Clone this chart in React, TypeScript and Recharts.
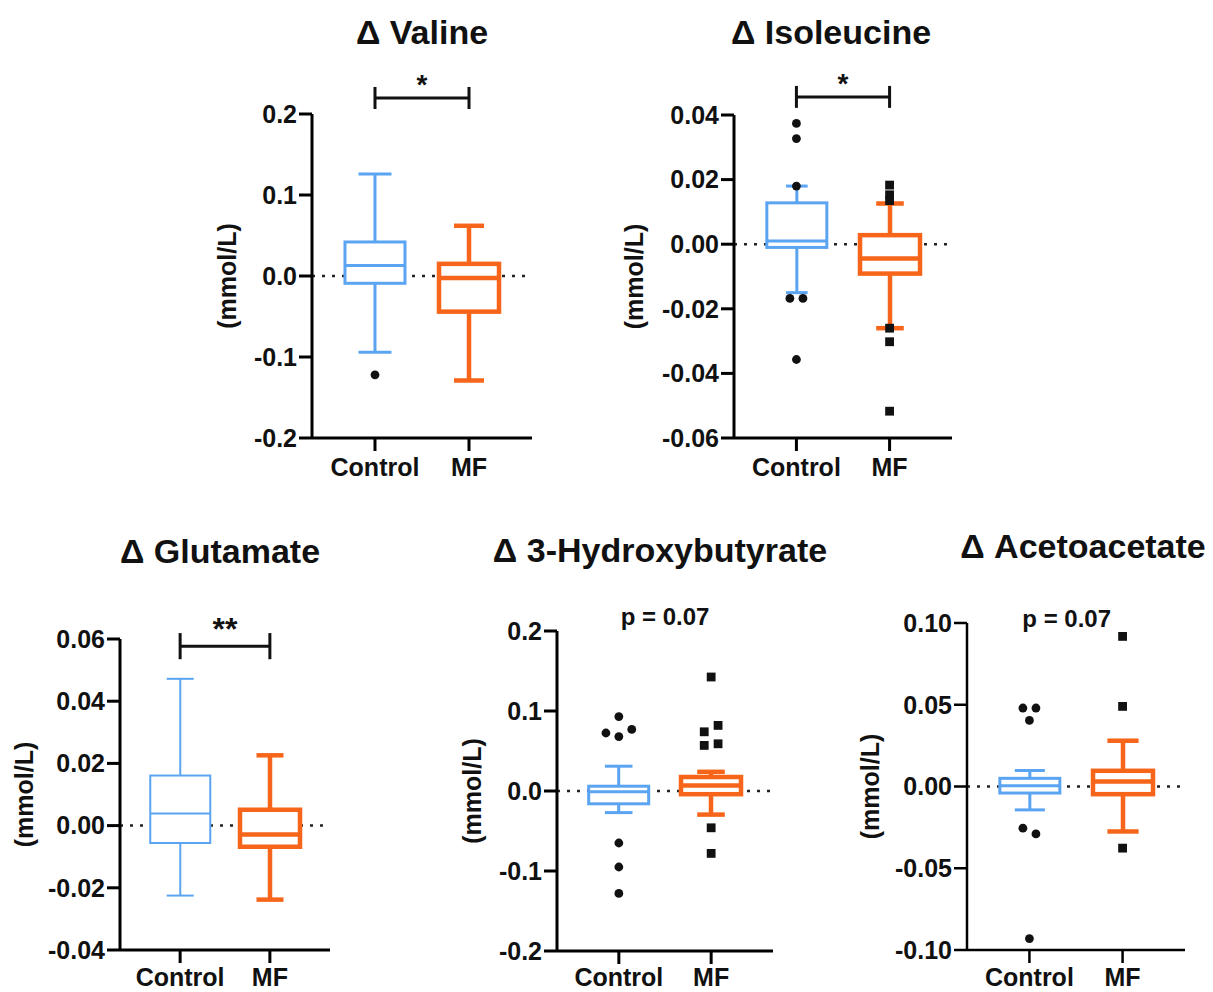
import React from 'react';
import { ComposedChart, Bar, Scatter, XAxis, YAxis, ReferenceLine, CartesianGrid } from 'recharts';

const GROUPS = ['Control', 'MF'];
const GROUP_COLORS = ['#5aa4f2', '#f6651a'];
const FONT = '"Liberation Sans", Arial, Helvetica, sans-serif';

// box stats per group: [min, q1, median, q3, max]
const valineStats = [
  [-0.094, -0.009, 0.013, 0.042, 0.126],
  [-0.129, -0.044, -0.0025, 0.015, 0.062],
];
const valineOutliers = [{ x: 1, y: -0.122 }];
const valineTicks = [-0.2, -0.1, 0, 0.1, 0.2];

const isoleucineStats = [
  [-0.015, -0.001, 0.001, 0.0128, 0.018],
  [-0.026, -0.0091, -0.0044, 0.0028, 0.0126],
];
const isoleucineOutliers = [
  { x: 1, y: 0.0374 },
  { x: 1, y: 0.0327 },
  { x: 1, y: 0.018 },
  { x: 0.93, y: -0.0168 },
  { x: 1.07, y: -0.0168 },
  { x: 1, y: -0.0357 },
  { x: 2, y: 0.0183 },
  { x: 2, y: 0.0153 },
  { x: 2, y: 0.0135 },
  { x: 2, y: -0.026 },
  { x: 2, y: -0.0302 },
  { x: 2, y: -0.0517 },
];
const isoleucineTicks = [-0.06, -0.04, -0.02, 0, 0.02, 0.04];

const glutamateStats = [
  [-0.0225, -0.0056, 0.0039, 0.0161, 0.0472],
  [-0.0238, -0.0068, -0.0029, 0.0051, 0.0226],
];
const glutamateOutliers: { x: number; y: number }[] = [];
const glutamateTicks = [-0.04, -0.02, 0, 0.02, 0.04, 0.06];

const hydroxyStats = [
  [-0.027, -0.016, -0.001, 0.006, 0.031],
  [-0.0295, -0.004, 0.007, 0.0175, 0.024],
];
const hydroxyOutliers = [
  { x: 1, y: 0.093 },
  { x: 0.86, y: 0.0725 },
  { x: 1, y: 0.068 },
  { x: 1.14, y: 0.077 },
  { x: 1, y: -0.065 },
  { x: 1, y: -0.095 },
  { x: 1, y: -0.128 },
  { x: 2, y: 0.1425 },
  { x: 1.925, y: 0.074 },
  { x: 2.075, y: 0.082 },
  { x: 1.925, y: 0.057 },
  { x: 2.075, y: 0.059 },
  { x: 2, y: -0.046 },
  { x: 2, y: -0.078 },
];
const hydroxyTicks = [-0.2, -0.1, 0, 0.1, 0.2];

const acetoStats = [
  [-0.0143, -0.004, 0.0004, 0.005, 0.0098],
  [-0.0275, -0.0047, 0.003, 0.0096, 0.028],
];
const acetoOutliers = [
  { x: 0.93, y: 0.048 },
  { x: 1.07, y: 0.048 },
  { x: 1, y: 0.0404 },
  { x: 0.93, y: -0.0255 },
  { x: 1.07, y: -0.029 },
  { x: 1, y: -0.093 },
  { x: 2, y: 0.0918 },
  { x: 2, y: 0.049 },
  { x: 2, y: -0.0377 },
];
const acetoTicks = [-0.1, -0.05, 0, 0.05, 0.1];

const X_DOMAIN = [0.33, 2.67];
const MT = 75;
const XAXIS_H = 55;
const YW = 120;
const RIGHT_PAD = 12;

const PANELS = [
  {
    title: 'Δ Valine', titleX: 422, titleY: 44,
    stats: valineStats, outliers: valineOutliers, ticks: valineTicks, digits: 1,
    note: { text: '*', y: 0.2198, x: [1, 2], tick: 0.0136, size: 28, lift: 4 },
    axisX: 312, top: 114, bottom: 438, right: 532, labelDx: 85, xMargin: 7,
    strokes: [3, 4.5], caps: [0.55, 0.5], axisW: 3,
  },
  {
    title: 'Δ Isoleucine', titleX: 831, titleY: 44,
    stats: isoleucineStats, outliers: isoleucineOutliers, ticks: isoleucineTicks, digits: 2,
    note: { text: '*', y: 0.0456, x: [1, 2], tick: 0.0034, size: 28, lift: 4 },
    axisX: 734, top: 115, bottom: 438, right: 952, labelDx: 100, xMargin: 7,
    strokes: [3, 4.5], caps: [0.36, 0.46], axisW: 3,
  },
  {
    title: 'Δ Glutamate', titleX: 220, titleY: 563,
    stats: glutamateStats, outliers: glutamateOutliers, ticks: glutamateTicks, digits: 2,
    note: { text: '**', y: 0.0577, x: [1, 2], tick: 0.0042, size: 32, lift: 6 },
    axisX: 120, top: 639, bottom: 950, right: 330, labelDx: 96, xMargin: 5,
    strokes: [2, 4.5], caps: [0.45, 0.45], axisW: 3,
  },
  {
    title: 'Δ 3-Hydroxybutyrate', titleX: 660, titleY: 562,
    stats: hydroxyStats, outliers: hydroxyOutliers, ticks: hydroxyTicks, digits: 1,
    note: { text: 'p = 0.07', y: 0.2075, x: [1, 2], tick: 0, size: 24, lift: 0 },
    axisX: 557, top: 631, bottom: 951, right: 773, labelDx: 85, xMargin: 4,
    strokes: [3, 4.5], caps: [0.46, 0.46], axisW: 3,
  },
  {
    title: 'Δ Acetoacetate', titleX: 1083, titleY: 558,
    stats: acetoStats, outliers: acetoOutliers, ticks: acetoTicks, digits: 2,
    note: { text: 'p = 0.07', y: 0.0976, x: [0.9, 1.9], tick: 0, size: 24, lift: 0 },
    axisX: 967, top: 623, bottom: 950, right: 1185, labelDx: 97, xMargin: 5,
    strokes: [3, 4.5], caps: [0.5, 0.52], axisW: 2.5,
  },
];

type Panel = (typeof PANELS)[number];

const whiskerRange = (d: any) => (d && d.stats ? [d.stats[0], d.stats[4]] : null);

const BoxShape = (props: any) => {
  const { x, y, width, height, payload, panel } = props;
  const p: Panel = panel;
  if (!payload || !payload.stats || x == null) return null;
  const gi = payload.x - 1;
  const [lo, q1, med, q3, hi] = payload.stats;
  const top = Math.min(y, y + height);
  const h = Math.abs(height);
  const py = (v: number) => top + ((hi - v) / (hi - lo)) * h;
  const cx = x + width / 2;
  const half = (width * p.caps[gi]) / 2;
  const sw = p.strokes[gi];
  const color = GROUP_COLORS[gi];
  const common = { stroke: color, strokeWidth: sw };
  return (
    <g>
      <line x1={cx} x2={cx} y1={py(hi)} y2={py(q3)} {...common} />
      <line x1={cx} x2={cx} y1={py(q1)} y2={py(lo)} {...common} />
      <line x1={cx - half} x2={cx + half} y1={py(hi)} y2={py(hi)} {...common} />
      <line x1={cx - half} x2={cx + half} y1={py(lo)} y2={py(lo)} {...common} />
      <rect x={x} y={py(q3)} width={width} height={py(q1) - py(q3)} fill="#fff" {...common} />
      <line x1={x} x2={x + width} y1={py(med)} y2={py(med)} {...common} />
    </g>
  );
};

const OutlierShape = (props: any) => {
  const { cx, cy, payload } = props;
  if (cx == null || cy == null || !payload) return null;
  if (payload.x < 1.5) return <circle cx={cx} cy={cy} r={4.4} fill="#111" />;
  return <rect x={cx - 4.4} y={cy - 4.4} width={8.8} height={8.8} fill="#111" />;
};

const YLabel = (props: any) => {
  const { viewBox, dx } = props;
  if (!viewBox) return null;
  const cx = viewBox.x + viewBox.width - dx;
  const cy = viewBox.y + viewBox.height / 2;
  return (
    <text
      x={cx}
      y={cy}
      transform={`rotate(-90, ${cx}, ${cy})`}
      textAnchor="middle"
      dominantBaseline="central"
      fontSize={25}
      fontWeight={700}
      fontFamily={FONT}
      fill="#111"
    >
      (mmol/L)
    </text>
  );
};

const NoteLabel = (props: any) => {
  const { viewBox, text, size, lift } = props;
  if (!viewBox) return null;
  return (
    <text
      x={viewBox.x + viewBox.width / 2}
      y={viewBox.y - lift}
      textAnchor="middle"
      fontSize={size}
      fontWeight={700}
      fontFamily={FONT}
      fill="#111"
    >
      {text}
    </text>
  );
};

function BoxPanel({ panel }: { panel: Panel }) {
  const plotW = panel.right - panel.axisX;
  const plotH = panel.bottom - panel.top;
  const width = YW + plotW + RIGHT_PAD;
  const height = MT + plotH + XAXIS_H;
  const rows = GROUPS.map((g, i) => ({ x: i + 1, group: g, stats: panel.stats[i] }));
  const yMin = panel.ticks[0];
  const yMax = panel.ticks[panel.ticks.length - 1];
  const n = panel.note;
  const axisStyle = { stroke: '#000', strokeWidth: panel.axisW };
  const tickFont = { fill: '#111', fontSize: 25, fontWeight: 700, fontFamily: FONT };

  return (
    <div style={{ position: 'absolute', left: panel.axisX - YW, top: panel.top - MT }}>
      <ComposedChart
        width={width}
        height={height}
        data={rows}
        margin={{ top: MT, right: RIGHT_PAD, bottom: 0, left: 0 }}
      >
        {/* dotted zero line, drawn behind the boxes */}
        <CartesianGrid
          vertical={false}
          horizontalValues={[0]}
          stroke="#222"
          strokeWidth={2.5}
          strokeDasharray="3 7"
        />
        <XAxis
          type="number"
          dataKey="x"
          domain={X_DOMAIN}
          ticks={[1, 2]}
          allowDataOverflow
          tickFormatter={(v: number) => GROUPS[Math.round(v) - 1] ?? ''}
          height={XAXIS_H}
          axisLine={axisStyle}
          tickLine={axisStyle}
          tickSize={13}
          tickMargin={panel.xMargin}
          tick={tickFont}
        />
        <XAxis
          xAxisId="pts"
          type="number"
          dataKey="x"
          domain={X_DOMAIN}
          allowDataOverflow
          hide
        />
        <YAxis
          type="number"
          domain={[yMin, yMax]}
          ticks={panel.ticks}
          allowDataOverflow
          interval={0}
          width={YW}
          tickFormatter={(v: number) => Number(v).toFixed(panel.digits)}
          axisLine={axisStyle}
          tickLine={axisStyle}
          tickSize={13}
          tickMargin={2}
          tick={tickFont}
          label={<YLabel dx={panel.labelDx} />}
        />
        <Bar
          dataKey={whiskerRange}
          barSize={60}
          isAnimationActive={false}
          shape={(p: any) => <BoxShape {...p} panel={panel} />}
        />
        <Scatter
          xAxisId="pts"
          data={panel.outliers}
          dataKey="y"
          isAnimationActive={false}
          shape={(p: any) => <OutlierShape {...p} />}
        />
        {n.tick > 0 && (
          <ReferenceLine
            ifOverflow="visible"
            segment={[{ x: n.x[0], y: n.y }, { x: n.x[1], y: n.y }]}
            stroke="#111"
            strokeWidth={3}
            label={<NoteLabel text={n.text} size={n.size} lift={n.lift} />}
          />
        )}
        {n.tick > 0 &&
          n.x.map((xv) => (
            <ReferenceLine
              key={xv}
              ifOverflow="visible"
              segment={[{ x: xv, y: n.y + n.tick }, { x: xv, y: n.y - n.tick }]}
              stroke="#111"
              strokeWidth={3}
            />
          ))}
        {n.tick === 0 && (
          <ReferenceLine
            ifOverflow="visible"
            segment={[{ x: n.x[0], y: n.y }, { x: n.x[1], y: n.y }]}
            stroke="none"
            label={<NoteLabel text={n.text} size={n.size} lift={n.lift} />}
          />
        )}
      </ComposedChart>
    </div>
  );
}

export default function App() {
  return (
    <div
      style={{
        position: 'absolute',
        left: 0,
        top: 0,
        width: 1213,
        height: 992,
        background: '#fff',
        overflow: 'hidden',
      }}
    >
      {PANELS.map((p) => (
        <BoxPanel key={p.title} panel={p} />
      ))}
      <svg
        width={1213}
        height={992}
        style={{ position: 'absolute', left: 0, top: 0, pointerEvents: 'none' }}
      >
        {PANELS.map((p) => (
          <text
            key={p.title}
            x={p.titleX}
            y={p.titleY}
            textAnchor="middle"
            fontSize={34}
            fontWeight={700}
            fontFamily={FONT}
            fill="#111"
          >
            {p.title}
          </text>
        ))}
      </svg>
    </div>
  );
}
